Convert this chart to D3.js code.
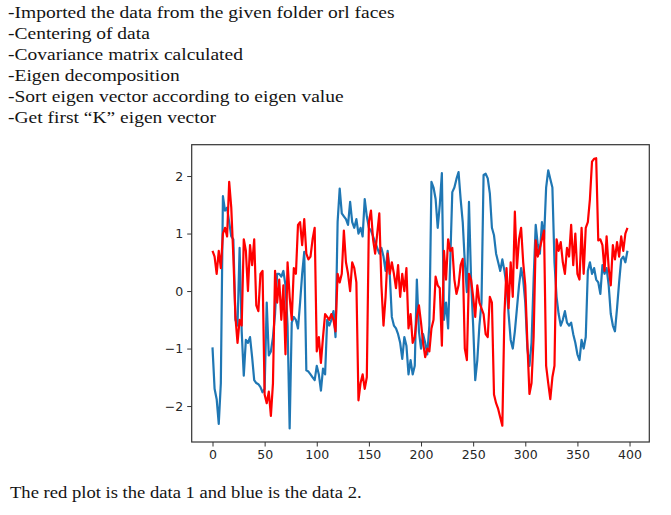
<!DOCTYPE html>
<html>
<head>
<meta charset="utf-8">
<script src="https://cdn.jsdelivr.net/npm/d3@7"></script>
<style>
  body { margin: 0; background: #fff; }
  .note { font-family: "Liberation Serif", "Times New Roman", serif; font-size: 17.5px; fill: #141414; }
  .tick text { font-family: "DejaVu Sans", sans-serif; font-size: 12.5px; fill: #262626; }
</style>
</head>
<body>
<svg id="chart" width="671" height="515"></svg>
<script>
// text around the figure
const steps = [
  '-Imported the data from the given folder orl faces',
  '-Centering of data',
  '-Covariance matrix calculated',
  '-Eigen decomposition',
  '-Sort eigen vector according to eigen value',
  '-Get first \u201cK\u201d eigen vector'
];
const caption = 'The red plot is the data 1 and blue is the data 2.';

const xTicks = [0, 50, 100, 150, 200, 250, 300, 350, 400];
const yTicks = [-2, -1, 0, 1, 2];

// samples every 2nd index of the 400 long vectors
const sampleIndex = d3.range(0, 400, 2);

// data 1 (red)
const data1 = [
  0.70, 0.60, 0.30, 0.70, 0.40, 1.00, 1.10, 0.95, 1.90, 1.45,
  0.60, -0.45, -0.90, -0.50, -0.60, 0.90, 0.70, 0.00, 0.80, 0.45,
  0.90, -0.25, -0.35, 0.30, 0.35, -1.80, -1.95, -1.75, -2.17, -1.60,
  0.35, -0.20, 0.20, -0.50, 0.10, -1.10, 0.50, -0.10, -0.50, 0.40,
  0.30, 1.15, 1.20, 0.80, 1.25, 0.65, 0.55, 0.60, 0.90, 1.10,
  -1.05, -0.80, -1.25, -0.80, -0.40, -0.45, -0.50, -0.40, -0.50, -0.70,
  0.30, 0.15, 0.30, 1.05, 0.50, 0.30, 0.00, 0.50, 0.40, 0.15,
  -1.90, -1.60, -1.45, -1.70, -1.50, 1.20, 1.40, 0.90, 0.65, 1.00,
  1.35, 0.10, -0.60, -0.10, 0.65, 0.30, 0.50, 0.30, 0.05, 0.45,
  -0.10, 0.30, 0.00, 0.40, -0.65, -0.40, -0.90, -0.80, -0.45, -0.25,
  -0.55, -0.90, -1.15, -1.00, -1.05, -0.65, -0.50, 0.25, 0.10, 0.05,
  -0.95, 0.70, 0.20, 0.90, 0.70, 0.75, 0.20, -0.05, 0.10, 0.45,
  0.56, -1.00, -1.20, 0.30, 0.20, -0.10, -0.45, 0.10, -0.20, -0.30,
  -0.40, -0.75, -0.80, -0.10, -0.20, -1.80, -1.95, -2.05, -2.20, -2.34,
  -0.40, 0.40, -0.30, 0.50, -0.10, 1.38, 0.40, 0.90, 1.10, 0.50,
  0.10, -0.90, -1.79, -1.60, -0.80, 0.88, 0.60, 0.75, 0.90, 1.05,
  -1.30, -1.60, -1.88, -1.50, -1.30, 0.90, 0.70, 0.85, 0.50, 0.30,
  0.75, 0.60, 1.15, 0.45, 1.00, 0.30, 0.20, 1.10, 0.30, 1.10,
  1.20, 1.60, 2.25, 2.30, 2.31, 0.88, 0.90, 0.80, 0.35, 0.95,
  0.40, 0.10, 0.80, 0.55, 0.85, 0.60, 0.95, 0.70, 1.00, 1.10
];

// data 2 (blue)
const data2 = [
  -0.98, -1.70, -1.88, -2.31, -1.60, 1.65, 1.40, 1.45, 1.20, 0.95,
  0.90, -0.50, -0.60, 0.75, -0.70, -1.47, -0.85, -0.90, -0.80, -1.15,
  -1.55, -1.60, -1.62, -1.67, -1.76, -1.70, -0.20, -1.12, -1.05, -0.80,
  -0.40, 0.30, 0.30, 0.25, 0.35, 0.10, -0.60, -2.39, -0.55, -0.45,
  -0.50, -0.65, -0.20, 0.30, 0.68, -1.38, -1.40, -1.45, -1.50, -1.55,
  -1.30, -1.45, -1.73, -1.35, -1.45, -0.50, -0.60, -0.50, -0.35, -0.80,
  1.20, 1.78, 1.35, 1.30, 1.25, 1.15, 1.55, 1.20, 1.10, 1.25,
  1.00, 1.10, 0.95, 1.60, 1.30, 1.10, 1.05, 0.95, 0.85, 0.75,
  0.65, 0.75, 0.60, 0.35, 0.70, 0.30, -0.45, -0.60, -0.65, -0.75,
  -0.90, -1.18, -0.80, -0.95, -1.45, -1.20, -1.45, -1.30, 0.20, -0.70,
  -1.00, -0.75, -0.90, -1.10, -0.60, 1.90, 1.80, 1.60, 1.10, 1.50,
  2.05, -0.50, -0.20, -0.65, 0.50, 1.72, 1.80, 1.95, 2.07, 1.60,
  1.20, 0.50, -0.02, 1.55, 0.20, -0.60, -1.55, -1.20, -0.60, -0.20,
  2.02, 2.04, 1.96, 1.70, 1.10, 0.97, 0.65, 0.50, 0.35, 0.55,
  0.35, 0.10, -0.40, -0.85, -1.00, -0.70, -0.30, 0.10, 0.40, 0.20,
  -0.20, -1.00, -1.30, -0.90, 0.20, 1.15, 0.80, 0.65, 1.20, 0.90,
  1.80, 2.10, 1.95, 1.80, 0.50, -0.10, -0.40, -0.60, -0.50, -0.35,
  -0.55, -0.60, -0.55, -0.75, -0.90, -1.10, -1.20, -0.85, -1.00, -0.80,
  0.35, 0.50, 0.30, 0.40, 0.20, 0.15, -0.05, 0.45, 0.30, 0.40,
  0.10, -0.40, -0.60, -0.70, -0.30, 0.15, 0.55, 0.60, 0.50, 0.70
];

const svg = d3.select('#chart');

// plot box, as in the screenshot
const box = { left: 191.7, top: 144.7, width: 457.6, height: 297.3 };

// the original text is set in a wider serif, so stretch ours to the same width
function stretchTo(sel, x, y, sx) {
  sel.attr('x', 0).attr('y', 0)
    .attr('transform', 'translate(' + x + ',' + y + ') scale(' + sx + ',1)');
}

function drawNotes() {
  let lines = svg.selectAll('.step')
    .data(steps)
    .enter().append('text')
    .attr('class', 'note step')
    .text(d => d);

  let sx = 387 / lines.node().getComputedTextLength();
  lines.each(function(d, i) {
    stretchTo(d3.select(this), 8, 17.7 + i * 21.1, sx);
  });

  let cap = svg.append('text')
    .attr('class', 'note')
    .text(caption);
  stretchTo(cap, 10, 498, 352 / cap.node().getComputedTextLength());
}

function drawPlot() {
  // matplotlib style 5% margins
  let n = 400;
  let x = d3.scaleLinear()
    .domain([-0.05 * (n - 1), (n - 1) * 1.05])
    .range([box.left, box.left + box.width]);

  let ext = d3.extent(data1.concat(data2));
  let pad = (ext[1] - ext[0]) * 0.05;
  let y = d3.scaleLinear()
    .domain([ext[0] - pad, ext[1] + pad])
    .range([box.top + box.height, box.top]);

  let xAxis = d3.axisBottom(x).tickValues(xTicks).tickSize(4.5).tickSizeOuter(0).tickPadding(4).tickFormat(d3.format('d'));
  let yAxis = d3.axisLeft(y).tickValues(yTicks).tickSize(4.5).tickSizeOuter(0).tickPadding(4).tickFormat(d3.format('d'));

  let gx = svg.append('g')
    .attr('transform', 'translate(0,' + (box.top + box.height) + ')')
    .call(xAxis);
  let gy = svg.append('g')
    .attr('transform', 'translate(' + box.left + ',0)')
    .call(yAxis);

  gx.select('.domain').remove();
  gy.select('.domain').remove();
  svg.selectAll('.tick line').attr('stroke', '#333').attr('stroke-width', 1);

  let line = d3.line()
    .x((d, i) => x(sampleIndex[i]))
    .y(d => y(d));

  svg.append('path')
    .datum(data2)
    .attr('fill', 'none')
    .attr('stroke', '#1f77b4')
    .attr('stroke-width', 2.2)
    .attr('stroke-linejoin', 'round')
    .attr('d', line);

  svg.append('path')
    .datum(data1)
    .attr('fill', 'none')
    .attr('stroke', '#ff0000')
    .attr('stroke-width', 2.2)
    .attr('stroke-linejoin', 'round')
    .attr('d', line);

  // frame
  svg.append('rect')
    .attr('x', box.left)
    .attr('y', box.top)
    .attr('width', box.width)
    .attr('height', box.height)
    .attr('fill', 'none')
    .attr('stroke', '#333')
    .attr('stroke-width', 1.2);
}

drawNotes();
drawPlot();
</script>
</body>
</html>
